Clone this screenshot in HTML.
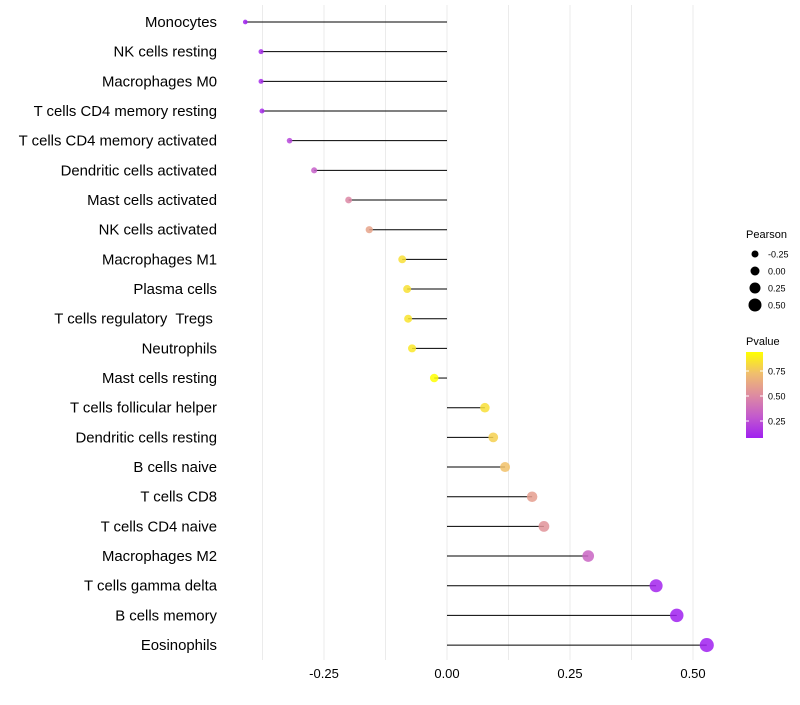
<!DOCTYPE html>
<html><head><meta charset="utf-8"><style>
body{margin:0;background:#fff;font-family:"Liberation Sans",sans-serif}
svg text{font-family:"Liberation Sans",sans-serif;white-space:pre}
</style></head><body>
<svg id="c" width="800" height="700"></svg>
<script>
const categories=["Monocytes","NK cells resting","Macrophages M0","T cells CD4 memory resting","T cells CD4 memory activated","Dendritic cells activated","Mast cells activated","NK cells activated","Macrophages M1","Plasma cells","T cells regulatory  Tregs ","Neutrophils","Mast cells resting","T cells follicular helper","Dendritic cells resting","B cells naive","T cells CD8","T cells CD4 naive","Macrophages M2","T cells gamma delta","B cells memory","Eosinophils"];
const pearson=[-0.41,-0.378,-0.378,-0.376,-0.32,-0.27,-0.2,-0.158,-0.091,-0.081,-0.079,-0.071,-0.026,0.077,0.094,0.118,0.173,0.197,0.287,0.425,0.467,0.528];
const pvalue=[0.08,0.12,0.12,0.12,0.22,0.32,0.5,0.62,0.85,0.86,0.87,0.88,0.96,0.85,0.8,0.75,0.6,0.55,0.35,0.1,0.08,0.06];
const xTicks=[-0.25,0,0.25,0.5];
const xTickLabels=["-0.25","0.00","0.25","0.50"];
const gridVals=[-0.375,-0.25,-0.125,0,0.125,0.25,0.375,0.5];
const legendSizes=[-0.25,0,0.25,0.5];
const legendSizeLabels=["-0.25","0.00","0.25","0.50"];
const legendP=[0.75,0.5,0.25];
const NS="http://www.w3.org/2000/svg";
const svg=document.getElementById('c');
function el(t,a,p){const e=document.createElementNS(NS,t);for(const k in a)e.setAttribute(k,a[k]);(p||svg).appendChild(e);return e;}
const x=v=>447+v*492;
const y=i=>22+i*29.67;
const r=v=>Math.max(1.6,2.5+5*(v+0.38));
const stops=[[0,[160,32,240]],[0.25,[195,90,205]],[0.5,[222,140,160]],[0.75,[240,190,110]],[1,[255,255,0]]];
function col(p){p=Math.max(0,Math.min(1,(p-0.08)/(0.96-0.08)));for(let i=1;i<stops.length;i++){if(p<=stops[i][0]){const a=stops[i-1],b=stops[i],t=(p-a[0])/(b[0]-a[0]);return 'rgb('+a[1].map((c,k)=>Math.round(c+(b[1][k]-c)*t)).join(',')+')';}}return 'rgb(255,255,0)';}
gridVals.forEach(g=>{const l=el('line',{x1:x(g),x2:x(g),y1:5,y2:660,stroke:'#ebebeb','stroke-width':1});

});
categories.forEach((c,i)=>{
 const t=el('text',{x:217,y:y(i)+5,'text-anchor':'end','font-size':14.9,fill:'#000'});t.textContent=c;
 
 
 const s=el('line',{x1:x(0),x2:x(pearson[i]),y1:y(i),y2:y(i),stroke:'#000','stroke-width':1});
 
 
 const d=el('circle',{cx:x(pearson[i]),cy:y(i),r:r(pearson[i]),fill:col(pvalue[i]),'fill-opacity':0.85});
 
 
});
xTicks.forEach((v,i)=>{const t=el('text',{x:x(v),y:678,'text-anchor':'middle','font-size':13,fill:'#000'});t.textContent=xTickLabels[i];

});
let t=el('text',{x:746,y:238,'font-size':11});t.textContent='Pearson';


legendSizes.forEach((v,i)=>{const cy=254+i*17;const c=el('circle',{cx:755,cy:cy,r:3.5+i});


const tt=el('text',{x:768,y:cy+3.5,'font-size':9});tt.textContent=legendSizeLabels[i];

});
t=el('text',{x:746,y:345,'font-size':11});t.textContent='Pvalue';


const defs=el('defs',{});const g=el('linearGradient',{id:'gr',x1:0,y1:1,x2:0,y2:0},defs);
stops.forEach(s=>el('stop',{offset:s[0],'stop-color':'rgb('+s[1].join(',')+')'},g));
const bar=el('rect',{x:746,y:352,width:17,height:86,fill:'url(#gr)'});


legendP.forEach(p=>{const yy=352+(0.94-p)*100;el('line',{x1:746,x2:749,y1:yy,y2:yy,stroke:'#fff'});el('line',{x1:760,x2:763,y1:yy,y2:yy,stroke:'#fff'});
const tt=el('text',{x:768,y:yy+3.5,'font-size':9});tt.textContent=p.toFixed(2);

});
</script>
</body></html>
